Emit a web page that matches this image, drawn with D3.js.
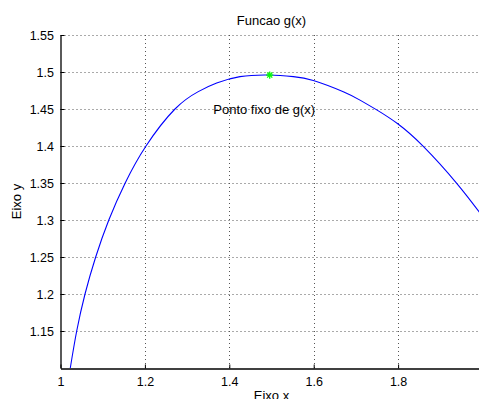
<!DOCTYPE html>
<html>
<head>
<meta charset="utf-8">
<script src="https://cdn.jsdelivr.net/npm/d3@7"></script>
<style>
  html, body { margin: 0; padding: 0; background: #fff; }
  svg { display: block; font-family: "Liberation Sans", Arial, Helvetica, sans-serif; }
</style>
</head>
<body>
<svg id="chart" width="479" height="399"></svg>
<script>
// ---- data ----
const curveX = [1.0232, 1.0384, 1.0581, 1.0834, 1.1145, 1.1533, 1.2026, 1.2713, 1.3265, 1.3701, 1.4254, 1.4948, 1.5517, 1.5991, 1.6701, 1.7097, 1.7493, 1.7991, 1.8597, 1.9389, 1.9917, 2.0000];
const curveY = [1.1000, 1.1500, 1.2000, 1.2500, 1.3000, 1.3500, 1.4000, 1.4500, 1.4735, 1.4850, 1.4937, 1.4959, 1.4937, 1.4885, 1.4733, 1.4620, 1.4488, 1.4300, 1.3995, 1.3496, 1.3112, 1.3050];
const fixedPoint = [1.4958, 1.4958];
const xTicks = [1, 1.2, 1.4, 1.6, 1.8];
const yTicks = [1.15, 1.2, 1.25, 1.3, 1.35, 1.4, 1.45, 1.5, 1.55];
const xDomain = [1, 2];
const yDomain = [1.1, 1.55];
const titleText = "Funcao g(x)";
const xLabelText = "Eixo x";
const yLabelText = "Eixo y";
const annotText = "Ponto fixo de g(x)";
const annotPos = [1.362, 1.45];

// ---- layout ----
const mLeft = 60.5, mRight = 482.5, mTop = 35, mBottom = 368;
const svg = d3.select("#chart");
const x = d3.scaleLinear().domain(xDomain).range([mLeft, mRight]);
const y = d3.scaleLinear().domain(yDomain).range([mBottom, mTop]);

// grid
const grid = svg.append("g").attr("stroke", "#555").attr("stroke-width", 1).attr("stroke-dasharray", "1,3");
grid.selectAll("line.v").data(xTicks.filter(d => d > xDomain[0])).enter().append("line")
  .attr("x1", d => Math.round(x(d)) + 0.5).attr("x2", d => Math.round(x(d)) + 0.5)
  .attr("y1", mTop).attr("y2", mBottom);
grid.selectAll("line.h").data(yTicks).enter().append("line")
  .attr("y1", d => Math.round(y(d)) + 0.5).attr("y2", d => Math.round(y(d)) + 0.5)
  .attr("x1", mLeft).attr("x2", mRight);

// clip
svg.append("defs").append("clipPath").attr("id", "clip").append("rect")
  .attr("x", mLeft).attr("y", mTop).attr("width", mRight - mLeft).attr("height", mBottom - mTop);

// curve
const pts = curveX.map((d, i) => [d, curveY[i]]);
svg.append("path")
  .attr("clip-path", "url(#clip)")
  .attr("d", d3.line().x(d => x(d[0])).y(d => y(d[1])).curve(d3.curveNatural)(pts))
  .attr("fill", "none").attr("stroke", "#0000ff").attr("stroke-width", 1.1);

// axes
const xAxis = d3.axisBottom(x).tickValues(xTicks).tickFormat(d3.format("")).tickSizeInner(-4).tickSizeOuter(0).tickPadding(9);
const yAxis = d3.axisLeft(y).tickValues(yTicks).tickFormat(d3.format("")).tickSizeInner(-4).tickSizeOuter(0).tickPadding(6);
const gx = svg.append("g").attr("transform", `translate(0,${mBottom + 0.5})`).call(xAxis);
const gy = svg.append("g").attr("transform", `translate(${mLeft},0)`).call(yAxis);
[gx, gy].forEach(g => {
  g.select(".domain").attr("stroke", "#000").attr("stroke-width", 1.3);
  g.selectAll(".tick line").attr("stroke", "#000");
  g.selectAll(".tick text").attr("fill", "#000").attr("font-size", "12.5px")
    .attr("font-family", "Liberation Sans, Arial, sans-serif");
});
gy.selectAll(".tick text").attr("dx", "-0.5");

// fixed point marker (asterisk)
const mx = x(fixedPoint[0]), my = y(fixedPoint[1]);
const star = svg.append("g").attr("stroke", "#00ff00").attr("stroke-width", 1.3);
[0, 45, 90, 135].forEach(a => {
  const r = 3.6, t = a * Math.PI / 180;
  star.append("line").attr("x1", mx - r * Math.cos(t)).attr("y1", my - r * Math.sin(t))
    .attr("x2", mx + r * Math.cos(t)).attr("y2", my + r * Math.sin(t));
});

// texts
svg.append("text").attr("x", (mLeft + mRight) / 2).attr("y", 24.5).attr("text-anchor", "middle")
  .attr("font-size", "13px").text(titleText);
svg.append("text").attr("x", (mLeft + mRight) / 2).attr("y", 399.5).attr("text-anchor", "middle")
  .attr("font-size", "13px").text(xLabelText);
svg.append("text").attr("transform", `translate(21,${(mTop + mBottom) / 2}) rotate(-90)`)
  .attr("text-anchor", "middle").attr("font-size", "13px").text(yLabelText);
svg.append("text").attr("x", x(annotPos[0])).attr("y", y(annotPos[1])).attr("dy", "0.35em")
  .attr("font-size", "13px").text(annotText);
</script>
</body>
</html>
